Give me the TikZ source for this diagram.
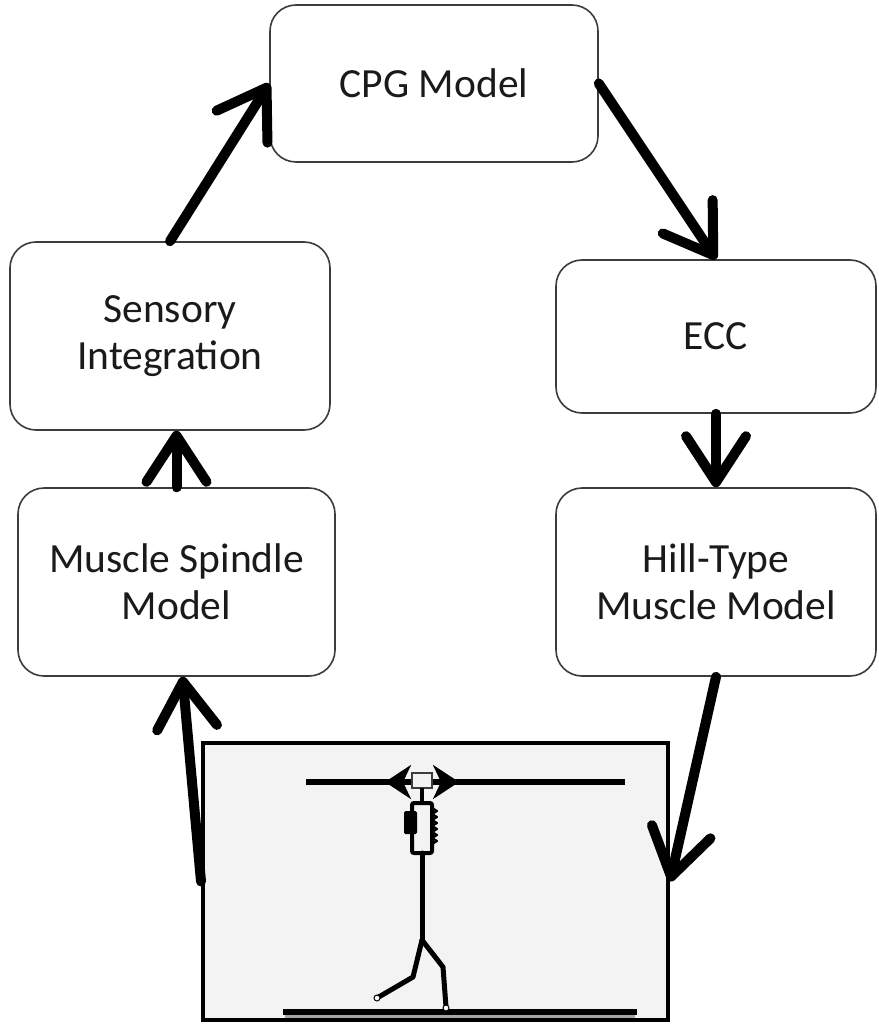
\documentclass[tikz,border=0pt]{standalone}
\usepackage{fontspec}
\setmainfont{Carlito}
\usetikzlibrary{arrows.meta}
\definecolor{edge}{HTML}{3C3C3C}
\definecolor{ground}{HTML}{F3F3F3}
\definecolor{ink}{HTML}{1A1A1A}
\tikzset{
  blk/.style={draw=edge,fill=white,line width=1.6pt,rounded corners=26pt,align=center,inner sep=0pt,text=ink},
  flow/.style={line width=10pt,line cap=round,-{Straight Barb[round,length=46pt,width=60pt]}},
  limb/.style={line width=5pt,line cap=round,line join=round},
}
\begin{document}
\begin{tikzpicture}[x=1pt,y=-1pt,font=\fontsize{41.5}{47}\selectfont]
  \useasboundingbox (0,0) rectangle (878,1024);
  % controller blocks
  \node[blk,minimum width=328pt,minimum height=157pt] (cpg) at (434,83.5) {CPG Model};
  \node[blk,minimum width=320pt,minimum height=188pt] (sens) at (170,336) {Sensory\\ Integration};
  \node[blk,minimum width=320pt,minimum height=153pt] (ecc) at (716,336.5) {ECC};
  \node[blk,minimum width=317pt,minimum height=188pt] (spin) at (176.5,582) {Muscle Spindle\\ Model};
  \node[blk,minimum width=320pt,minimum height=188pt] (hill) at (716,582) {Hill-Type\\ Muscle Model};
  % walker on the overhead rail
  \node[draw=black,fill=ground,line width=4pt,minimum width=465pt,minimum height=277pt,inner sep=0pt] (world) at (435.5,881.5) {};
  \draw[line width=5.5pt] (306,782) -- (625,782);
  \draw[black!35,line width=3pt] (285,1016) -- (635,1016);
  \draw[line width=5.5pt] (283,1012) -- (637,1012);
  \draw[line width=3.5pt,{Stealth[length=26pt,width=34pt,inset=8pt]}-{Stealth[length=26pt,width=34pt,inset=8pt]}] (385,782) -- (459,782);
  \draw[edge,fill=black!5,line width=1.5pt] (412,773) rectangle (432,788);
  \draw[line width=4pt] (422,788) -- (422,803);
  \fill[rounded corners=1.5pt] (404,811) rectangle (417,834);
  \draw[line width=4pt,rounded corners=2pt] (412,803) rectangle (432,853);
  \draw[line width=2.2pt,line join=round] (432,808) \foreach \k in {1,...,6} { -- ++(5,3) -- ++(-5,3) } -- (432,846);
  \draw[limb] (422,853) -- (422,940);
  \draw[limb] (422,940) -- (413,977) -- (377,998);
  \draw[limb] (422,940) -- (443,967) -- (446,1007);
  \draw[fill=white,line width=1pt] (377,998) circle (3pt);
  \draw[fill=white,line width=1pt] (446,1008) circle (3pt);
  % loop arrows
  \draw[flow] (sens.north) -- (cpg.west);
  \draw[flow] (cpg.east) -- (ecc.north);
  \draw[flow] (ecc.south) -- (hill.north);
  \draw[flow] (hill.south) -- (world.east);
  \draw[flow] (world.west) -- ([xshift=6pt]spin.south);
  \draw[flow] (spin.north) -- (spin.north |- sens.south);
\end{tikzpicture}
\end{document}
